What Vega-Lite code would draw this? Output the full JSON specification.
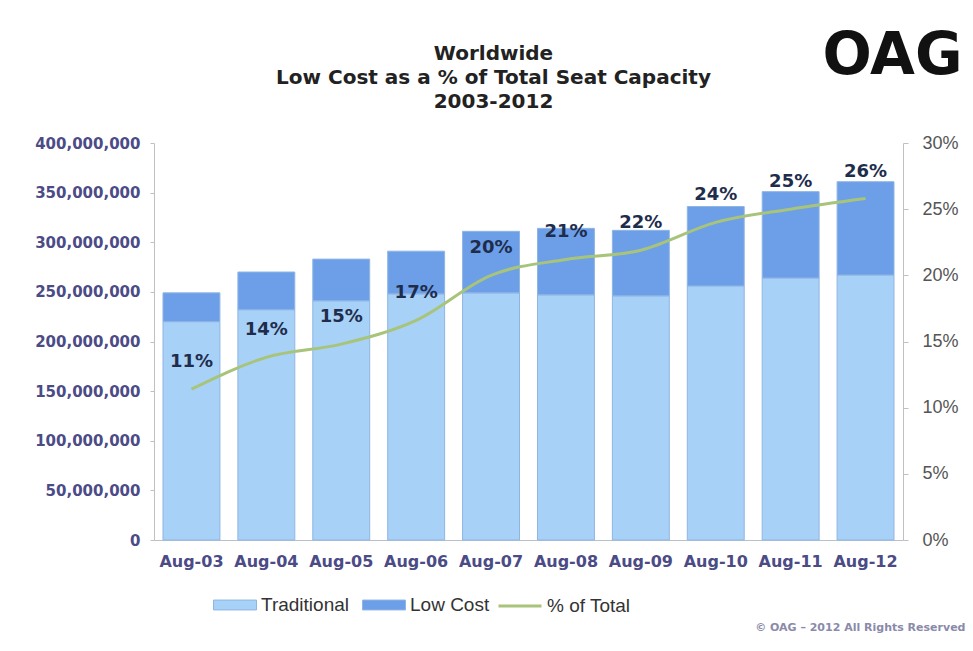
{
  "$schema": "https://vega.github.io/schema/vega-lite/v6.json",
  "width": 749,
  "height": 397,
  "autosize": "none",
  "padding": {"left": 154, "top": 143, "right": 70, "bottom": 111},
  "background": "white",
  "config": {"view": {"stroke": null}},
  "title": {
    "text": ["Worldwide", "Low Cost as a % of Total Seat Capacity", "2003-2012"],
    "font": "DejaVu Sans",
    "fontSize": 20,
    "fontWeight": "bold",
    "color": "#222222",
    "lineHeight": 24,
    "anchor": "middle",
    "frame": "group",
    "dx": -35,
    "offset": -85
  },
  "datasets": {
    "seats": [
      {"month": "Aug-03", "type": "Traditional", "k": 1, "seats": 220000000},
      {"month": "Aug-03", "type": "Low Cost", "k": 2, "seats": 29000000},
      {"month": "Aug-04", "type": "Traditional", "k": 1, "seats": 232000000},
      {"month": "Aug-04", "type": "Low Cost", "k": 2, "seats": 38000000},
      {"month": "Aug-05", "type": "Traditional", "k": 1, "seats": 241000000},
      {"month": "Aug-05", "type": "Low Cost", "k": 2, "seats": 42000000},
      {"month": "Aug-06", "type": "Traditional", "k": 1, "seats": 248000000},
      {"month": "Aug-06", "type": "Low Cost", "k": 2, "seats": 43000000},
      {"month": "Aug-07", "type": "Traditional", "k": 1, "seats": 249000000},
      {"month": "Aug-07", "type": "Low Cost", "k": 2, "seats": 62000000},
      {"month": "Aug-08", "type": "Traditional", "k": 1, "seats": 247000000},
      {"month": "Aug-08", "type": "Low Cost", "k": 2, "seats": 67000000},
      {"month": "Aug-09", "type": "Traditional", "k": 1, "seats": 246000000},
      {"month": "Aug-09", "type": "Low Cost", "k": 2, "seats": 66000000},
      {"month": "Aug-10", "type": "Traditional", "k": 1, "seats": 256000000},
      {"month": "Aug-10", "type": "Low Cost", "k": 2, "seats": 80000000},
      {"month": "Aug-11", "type": "Traditional", "k": 1, "seats": 264000000},
      {"month": "Aug-11", "type": "Low Cost", "k": 2, "seats": 87000000},
      {"month": "Aug-12", "type": "Traditional", "k": 1, "seats": 267000000},
      {"month": "Aug-12", "type": "Low Cost", "k": 2, "seats": 94000000}
    ],
    "share": [
      {"month": "Aug-03", "pct": 0.114, "label": "11%", "series": "% of Total"},
      {"month": "Aug-04", "pct": 0.138, "label": "14%", "series": "% of Total"},
      {"month": "Aug-05", "pct": 0.148, "label": "15%", "series": "% of Total"},
      {"month": "Aug-06", "pct": 0.166, "label": "17%", "series": "% of Total"},
      {"month": "Aug-07", "pct": 0.200, "label": "20%", "series": "% of Total"},
      {"month": "Aug-08", "pct": 0.212, "label": "21%", "series": "% of Total"},
      {"month": "Aug-09", "pct": 0.219, "label": "22%", "series": "% of Total"},
      {"month": "Aug-10", "pct": 0.240, "label": "24%", "series": "% of Total"},
      {"month": "Aug-11", "pct": 0.250, "label": "25%", "series": "% of Total"},
      {"month": "Aug-12", "pct": 0.258, "label": "26%", "series": "% of Total"}
    ]
  },
  "layer": [
    {
      "data": {"name": "seats"},
      "mark": {"type": "bar", "stroke": "#8fb5e3", "strokeWidth": 1},
      "encoding": {
        "x": {
          "field": "month",
          "type": "nominal",
          "sort": null,
          "scale": {"paddingInner": 0.24, "paddingOuter": 0.12},
          "axis": {
            "labelAngle": 0,
            "labelFont": "DejaVu Sans",
            "labelFontSize": 16,
            "labelFontWeight": "bold",
            "labelColor": "#4b4b86",
            "labelPadding": 13,
            "ticks": false,
            "domainColor": "#b8c0cc",
            "title": "© OAG – 2012 All Rights Reserved",
            "titleFont": "DejaVu Sans",
            "titleFontSize": 11,
            "titleFontWeight": "bold",
            "titleColor": "#8a8aaa",
            "titleAlign": "right",
            "titleBaseline": "middle",
            "titleX": 811,
            "titleY": 87
          }
        },
        "y": {
          "field": "seats",
          "type": "quantitative",
          "aggregate": "sum",
          "stack": "zero",
          "scale": {"domain": [0, 400000000], "nice": false},
          "axis": {
            "orient": "left",
            "values": [0, 50000000, 100000000, 150000000, 200000000, 250000000, 300000000, 350000000, 400000000],
            "format": ",.0f",
            "grid": false,
            "labelFont": "DejaVu Sans",
            "labelFontSize": 15,
            "labelFontWeight": "bold",
            "labelColor": "#4b4b86",
            "labelPadding": 10,
            "tickSize": 4,
            "tickColor": "#c0c0c0",
            "domainColor": "#c0c0c0",
            "title": null
          }
        },
        "color": {
          "field": "type",
          "type": "nominal",
          "scale": {
            "domain": ["Traditional", "Low Cost"],
            "range": ["#a8d1f7", "#6c9fe8"]
          },
          "legend": {
            "orient": "none",
            "direction": "horizontal",
            "legendX": 59,
            "legendY": 440,
            "title": null,
            "labelFont": "Liberation Sans",
            "labelFontSize": 19,
            "labelColor": "#333333",
            "labelOffset": 4,
            "columnPadding": 10,
            "symbolSize": 1849,
            "symbolType": "M-1,-0.23H1V0.23H-1Z",
            "symbolStrokeColor": "#8fb5e3",
            "symbolStrokeWidth": 1
          }
        },
        "order": {"field": "k", "type": "quantitative"}
      }
    },
    {
      "data": {"name": "share"},
      "layer": [
        {
          "mark": {"type": "line", "interpolate": "monotone", "strokeWidth": 3},
          "encoding": {
            "x": {"field": "month", "type": "nominal", "sort": null},
            "y": {
              "field": "pct",
              "type": "quantitative",
              "scale": {"domain": [0, 0.3], "nice": false},
              "axis": {
                "orient": "right",
                "values": [0, 0.05, 0.1, 0.15, 0.2, 0.25, 0.3],
                "format": ".0%",
                "grid": false,
                "labelFont": "Liberation Sans",
                "labelFontSize": 18,
                "labelColor": "#555555",
                "labelPadding": 14,
                "tickSize": 5,
                "tickColor": "#c0c0c0",
                "domainColor": "#c0c0c0",
                "title": "OAG",
                "titleFont": "DejaVu Sans",
                "titleFontSize": 58,
                "titleFontWeight": "bold",
                "titleColor": "#111111",
                "titleAngle": 0,
                "titleAlign": "center",
                "titleBaseline": "alphabetic",
                "titleX": -11,
                "titleY": -70
              }
            },
            "stroke": {
              "field": "series",
              "type": "nominal",
              "scale": {"domain": ["% of Total"], "range": ["#a8c47a"]},
              "legend": {
                "orient": "none",
                "legendX": 343,
                "legendY": 440,
                "title": null,
                "labelFont": "Liberation Sans",
                "labelFontSize": 19,
                "labelColor": "#333333",
                "labelOffset": 4,
                "symbolType": "stroke",
                "symbolSize": 1849,
                "symbolStrokeWidth": 3
              }
            }
          }
        },
        {
          "mark": {
            "type": "text",
            "font": "DejaVu Sans",
            "fontSize": 18,
            "fontWeight": "bold",
            "color": "#1f2d4d",
            "dy": -27,
            "baseline": "middle"
          },
          "encoding": {
            "x": {"field": "month", "type": "nominal", "sort": null},
            "y": {"field": "pct", "type": "quantitative"},
            "text": {"field": "label"}
          }
        }
      ]
    }
  ],
  "resolve": {"scale": {"y": "independent"}}
}
